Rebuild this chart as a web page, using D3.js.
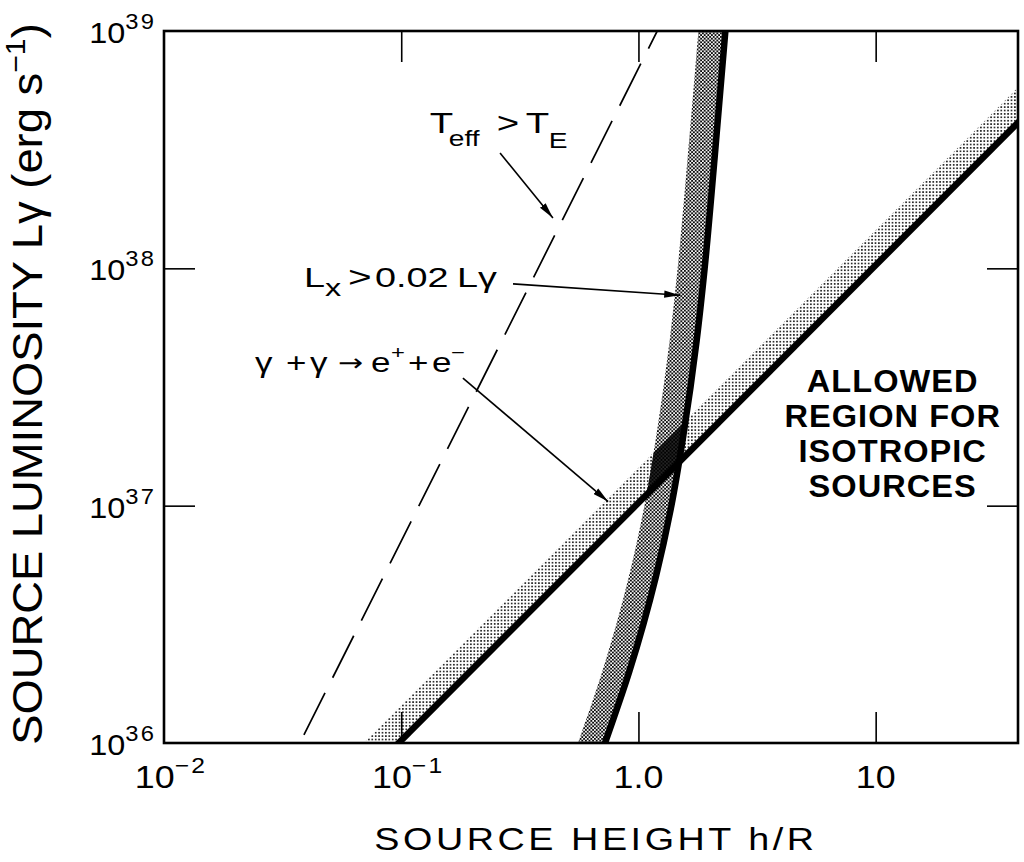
<!DOCTYPE html>
<html>
<head>
<meta charset="utf-8">
<script src="https://cdn.jsdelivr.net/npm/d3@7"></script>
<style>
  html, body { margin: 0; padding: 0; background: #fff; }
  svg { display: block; }
  text { font-family: "Liberation Sans", Arial, Helvetica, sans-serif; fill: #000; }
</style>
</head>
<body>
<svg id="chart"></svg>
<script>
"use strict";

// tick values and labels
const xTickValues = [0.01, 0.1, 1, 10];
const xTickBase = ["10", "10", "1.0", "10"];
const xTickExp = ["\u22122", "\u22121", "", ""];
const yTickValues = [1e36, 1e37, 1e38, 1e39];
const yTickExp = ["36", "37", "38", "39"];

// gamma + gamma -> e+ + e- limit (straight line)
const pairH = [0.08, 60];
const pairL = [8.2e35, 6.2e38];

// Lx > 0.02 L_gamma limit (curve)
const lxL = [8e35, 1e36, 2e36, 5e36, 1e37, 2e37, 5e37, 1e38, 3e38, 1e39, 1.3e39];
const lxH = [0.669, 0.723, 0.915, 1.183, 1.377, 1.549, 1.761, 1.901, 2.099, 2.325, 2.375];

// Teff > TE limit (dashed)
const eddH = [0.0374, 1.2];
const eddL = [1e36, 1e39];

// annotation anchors, in data units [h/R, L]
const tEffText = [0.132, 3.72e38];
const tEffArrow = [[0.261, 3.06e38], [0.436, 1.63e38]];
const lxText = [0.0401, 8.35e37];
const lxArrow = [[0.296, 8.6e37], [1.50, 7.7e37]];
const pairText = [0.0242, 3.66e37];
const pairArrow = [[0.182, 3.45e37], [0.745, 1.04e37]];
const allowedLines = ["ALLOWED", "REGION FOR", "ISOTROPIC", "SOURCES"];
const allowedPos = [11.8, 3.0e37];

const W = 1024, H = 862;
const plot = { left: 164, right: 1018, top: 31, bottom: 743 };
const tickLen = 31;
const pairShift = 35;
const lxShift = 27;

const x = d3.scaleLog().domain([0.01, Math.pow(10, 1.6)]).range([plot.left, plot.right]);
const y = d3.scaleLog().domain([1e36, 1e39]).range([plot.bottom, plot.top]);

const svg = d3.select("#chart").attr("width", W).attr("height", H);
svg.append("rect").attr("width", W).attr("height", H).attr("fill", "#fff");

const defs = svg.append("defs");
defs.append("clipPath").attr("id", "plotClip")
    .append("rect")
    .attr("x", plot.left).attr("y", plot.top)
    .attr("width", plot.right - plot.left).attr("height", plot.bottom - plot.top);

const p1 = defs.append("pattern").attr("id", "pairDots")
    .attr("patternUnits", "userSpaceOnUse").attr("width", 3.4).attr("height", 3.4);
p1.append("rect").attr("width", 3.4).attr("height", 3.4).attr("fill", "#fff");
p1.append("circle").attr("cx", 1.7).attr("cy", 1.7).attr("r", 0.95).attr("fill", "#000");

const p2 = defs.append("pattern").attr("id", "lxDots")
    .attr("patternUnits", "userSpaceOnUse").attr("width", 3.6).attr("height", 3.6);
p2.append("rect").attr("width", 3.6).attr("height", 3.6).attr("fill", "#fff");
p2.append("circle").attr("cx", 0.9).attr("cy", 0.9).attr("r", 1.05).attr("fill", "#000");
p2.append("circle").attr("cx", 2.7).attr("cy", 2.7).attr("r", 1.05).attr("fill", "#000");

defs.append("marker").attr("id", "arrow")
    .attr("viewBox", "0 -4 16 8")
    .attr("refX", 16).attr("refY", 0)
    .attr("markerWidth", 16).attr("markerHeight", 8)
    .attr("markerUnits", "userSpaceOnUse")
    .attr("orient", "auto")
    .append("path").attr("d", "M0,-3.6L16,0L0,3.6Z").attr("fill", "#000");

const pairPts = pairH.map((h, i) => ({ h: h, L: pairL[i] }));
const lxPts = lxH.map((h, i) => ({ h: h, L: lxL[i] }));
const eddPts = eddH.map((h, i) => ({ h: h, L: eddL[i] }));

const pairArea = d3.area().curve(d3.curveLinear)
    .y(d => y(d.L)).x1(d => x(d.h)).x0(d => x(d.h) - pairShift);
const lxArea = d3.area().curve(d3.curveMonotoneY)
    .y(d => y(d.L)).x1(d => x(d.h)).x0(d => x(d.h) - lxShift);
const straight = d3.line().x(d => x(d.h)).y(d => y(d.L));
const smooth = d3.line().curve(d3.curveMonotoneY).x(d => x(d.h)).y(d => y(d.L));

defs.append("clipPath").attr("id", "pairBandClip")
    .append("path").attr("d", pairArea(pairPts));

const g = svg.append("g").attr("clip-path", "url(#plotClip)");

// shaded bands
g.append("path").attr("d", pairArea(pairPts)).attr("fill", "url(#pairDots)");
g.append("path").attr("d", lxArea(lxPts)).attr("fill", "url(#lxDots)");
g.append("path").attr("d", lxArea(lxPts))
    .attr("clip-path", "url(#pairBandClip)")
    .attr("fill", "#000").attr("fill-opacity", 0.85);

// limit lines
g.append("path").attr("d", straight(pairPts))
    .attr("fill", "none").attr("stroke", "#000").attr("stroke-width", 6.5);
g.append("path").attr("d", smooth(lxPts))
    .attr("fill", "none").attr("stroke", "#000").attr("stroke-width", 6.5);
g.append("path").attr("d", straight(eddPts))
    .attr("fill", "none").attr("stroke", "#000").attr("stroke-width", 1.7)
    .attr("stroke-dasharray", "47 17").attr("stroke-dashoffset", 55);

// axes (ticks pointing inward)
function styleAxis(sel) {
    sel.select(".domain").remove();
    sel.selectAll(".tick line").attr("stroke", "#000").attr("stroke-width", 1.6);
    sel.selectAll(".tick text").remove();
}
const innerX = xTickValues.filter(v => v > 0.01);
svg.append("g").attr("transform", `translate(0,${plot.bottom})`)
    .call(d3.axisBottom(x).tickValues(innerX).tickSize(-tickLen)).call(styleAxis);
svg.append("g").attr("transform", `translate(0,${plot.top})`)
    .call(d3.axisTop(x).tickValues(innerX).tickSize(-tickLen)).call(styleAxis);
const innerY = yTickValues.filter(v => v > 1e36 && v < 1e39);
svg.append("g").attr("transform", `translate(${plot.left},0)`)
    .call(d3.axisLeft(y).tickValues(innerY).tickSize(-tickLen)).call(styleAxis);
svg.append("g").attr("transform", `translate(${plot.right},0)`)
    .call(d3.axisRight(y).tickValues(innerY).tickSize(-tickLen)).call(styleAxis);

svg.append("rect")
    .attr("x", plot.left).attr("y", plot.top)
    .attr("width", plot.right - plot.left).attr("height", plot.bottom - plot.top)
    .attr("fill", "none").attr("stroke", "#000").attr("stroke-width", 2.6);

// tick labels
xTickValues.forEach((v, i) => {
    const t = svg.append("g")
        .attr("transform", `translate(${x(v) + (xTickExp[i] ? 7 : 0)},${plot.bottom + 45}) scale(1.12,1)`)
        .append("text").attr("text-anchor", "middle").attr("font-size", 32);
    t.append("tspan").text(xTickBase[i]);
    if (xTickExp[i]) {
        t.append("tspan").attr("font-size", 22).attr("dy", -15).attr("letter-spacing", 2).text(xTickExp[i]);
    }
});
yTickValues.forEach((v, i) => {
    const t = svg.append("g")
        .attr("transform", `translate(${plot.left - 8},${y(v) + 12}) scale(1.08,1)`)
        .append("text").attr("text-anchor", "end").attr("font-size", 30);
    t.append("tspan").text("10");
    t.append("tspan").attr("font-size", 22).attr("dy", -14).attr("letter-spacing", 2).text(yTickExp[i]);
});

// axis titles
svg.append("g")
    .attr("transform", `translate(${(plot.left + plot.right) / 2 + 5},850) scale(1.18,1)`)
    .append("text").attr("text-anchor", "middle").attr("font-size", 32)
    .attr("letter-spacing", 3).text("SOURCE HEIGHT h/R");

const yt = svg.append("g")
    .attr("transform", `translate(42,${(plot.top + plot.bottom) / 2 - 3}) rotate(-90) scale(1.08,1)`)
    .append("text").attr("text-anchor", "middle").attr("font-size", 42);
yt.append("tspan").text("SOURCE LUMINOSITY L\u03b3 (erg s");
yt.append("tspan").attr("font-size", 28).attr("dy", -17).text("\u22121");
yt.append("tspan").attr("dy", 17).text(")");

// annotations
function anchor(p, sx) {
    return svg.append("g").attr("transform", `translate(${x(p[0])},${y(p[1])}) scale(${sx},1)`);
}
function arrow(a) {
    svg.append("line")
        .attr("x1", x(a[0][0])).attr("y1", y(a[0][1]))
        .attr("x2", x(a[1][0])).attr("y2", y(a[1][1]))
        .attr("stroke", "#000").attr("stroke-width", 1.6)
        .attr("marker-end", "url(#arrow)");
}

const s1 = 1.28;
const t1 = anchor(tEffText, s1).append("text").attr("font-size", 30);
t1.append("tspan").attr("x", 0).text("T");
t1.append("tspan").attr("x", 19 / s1).attr("dy", 13).attr("font-size", 22).text("eff");
t1.append("tspan").attr("x", 67 / s1).attr("dy", -13).text(">");
t1.append("tspan").attr("x", 96 / s1).text("T");
t1.append("tspan").attr("x", 119 / s1).attr("dy", 15).attr("font-size", 22).text("E");
arrow(tEffArrow);

const s2 = 1.35;
const t2 = anchor(lxText, s2).append("text").attr("font-size", 28);
t2.append("tspan").attr("x", -3 / s2).text("L");
t2.append("tspan").attr("x", 18 / s2).attr("dy", 9).attr("font-size", 24).text("x");
t2.append("tspan").attr("x", 41 / s2).attr("dy", -9).attr("font-size", 30).text(">");
t2.append("tspan").attr("x", 68 / s2).text("0.02");
t2.append("tspan").attr("x", 150 / s2).text("L");
t2.append("tspan").attr("x", 171 / s2).text("\u03b3");
arrow(lxArrow);

const s3 = 1.25;
const t3 = anchor(pairText, s3).append("text").attr("font-size", 28);
t3.append("tspan").attr("x", 0).text("\u03b3");
t3.append("tspan").attr("x", 31 / s3).text("+");
t3.append("tspan").attr("x", 55 / s3).text("\u03b3");
t3.append("tspan").attr("x", 83 / s3).attr("dy", -1)
    .attr("font-family", "DejaVu Sans").attr("font-size", 24).text("\u2192");
t3.append("tspan").attr("x", 116 / s3).attr("dy", 1).text("e");
t3.append("tspan").attr("x", 136 / s3).attr("dy", -13).attr("font-size", 19).text("+");
t3.append("tspan").attr("x", 153 / s3).attr("dy", 13).text("+");
t3.append("tspan").attr("x", 177 / s3).text("e");
t3.append("tspan").attr("x", 196 / s3).attr("dy", -13).attr("font-size", 19).text("\u2212");
arrow(pairArrow);

const al = anchor(allowedPos, 1.05).append("text")
    .attr("text-anchor", "middle").attr("font-size", 31)
    .attr("font-weight", "bold").attr("letter-spacing", 1);
allowedLines.forEach((line, i) => {
    al.append("tspan").attr("x", 0).attr("y", i * 35).text(line);
});
</script>
</body>
</html>
